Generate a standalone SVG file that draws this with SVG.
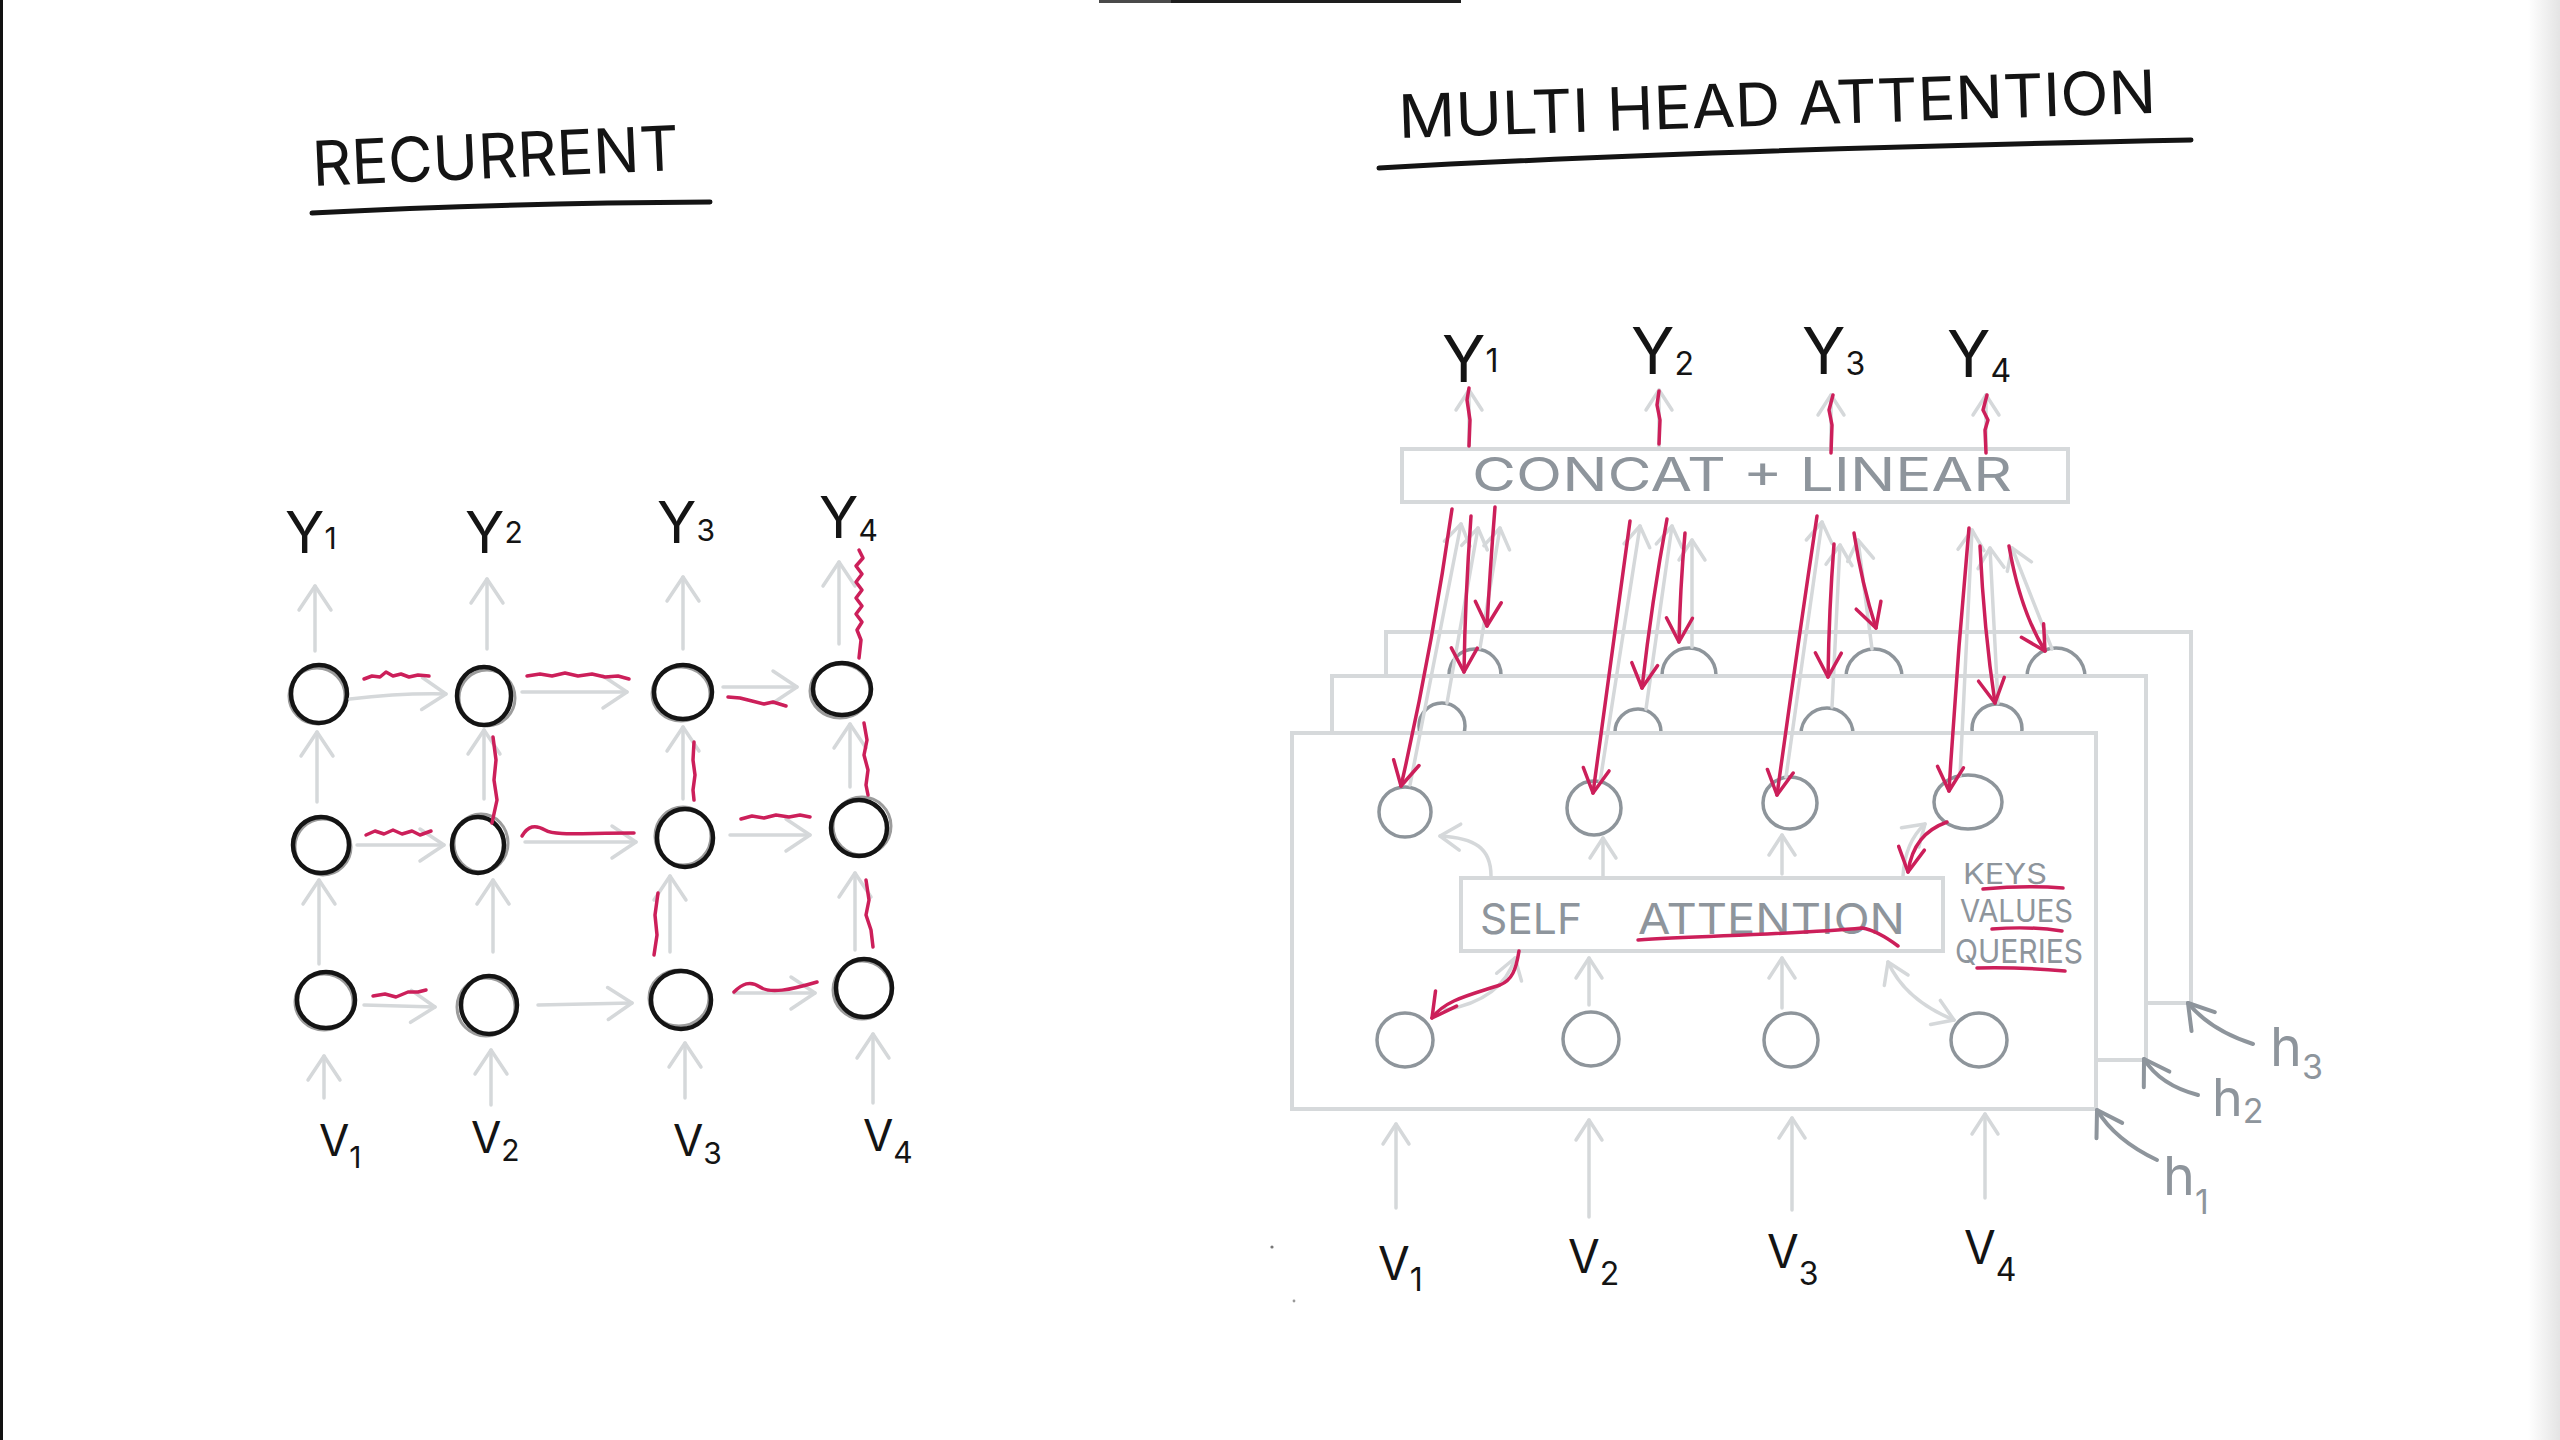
<svg xmlns="http://www.w3.org/2000/svg" width="2560" height="1440" viewBox="0 0 2560 1440">
<defs>
<style>
.hw{font-family:Inter,Lato,"Liberation Sans",sans-serif;font-weight:400;}
.ink{fill:#141414;}
.gt{fill:#8e959c;}
.ga{fill:none;stroke:#d5d8da;stroke-width:3.5;stroke-linecap:round;stroke-linejoin:round;}
.ra{fill:none;stroke:#cc1f5a;stroke-width:3.5;stroke-linecap:round;stroke-linejoin:round;}
.dg{fill:none;stroke:#8e959c;stroke-width:4;stroke-linecap:round;stroke-linejoin:round;}
.bx{fill:#fff;stroke:#d6d9db;stroke-width:4;}
.bc{fill:none;stroke:#141414;stroke-width:4.5;}
.bs{fill:none;stroke:#9c9c9c;stroke-width:3;}
.gc{fill:none;stroke:#8e959b;stroke-width:3.5;}
.ul{fill:none;stroke:#141414;stroke-width:5;stroke-linecap:round;}
</style>
<linearGradient id="shade" x1="0" y1="0" x2="1" y2="0">
<stop offset="0" stop-color="#ffffff"/>
<stop offset="1" stop-color="#e4e4e4"/>
</linearGradient>
<marker id="gh" markerUnits="userSpaceOnUse" markerWidth="60" markerHeight="60" refX="0" refY="0" orient="auto" overflow="visible"><path d="M-24,-16 L0,0 L-24,16" fill="none" stroke="#d5d8da" stroke-width="3.5" stroke-linecap="round" stroke-linejoin="round"/></marker>
<marker id="gs" markerUnits="userSpaceOnUse" markerWidth="60" markerHeight="60" refX="0" refY="0" orient="auto-start-reverse" overflow="visible"><path d="M-20,-13 L0,0 L-20,13" fill="none" stroke="#d5d8da" stroke-width="3.5" stroke-linecap="round" stroke-linejoin="round"/></marker>
<marker id="rh" markerUnits="userSpaceOnUse" markerWidth="60" markerHeight="60" refX="0" refY="0" orient="auto" overflow="visible"><path d="M-24,-13 L0,0 L-24,13" fill="none" stroke="#cc1f5a" stroke-width="3.5" stroke-linecap="round" stroke-linejoin="round"/></marker>
<marker id="dh" markerUnits="userSpaceOnUse" markerWidth="60" markerHeight="60" refX="0" refY="0" orient="auto" overflow="visible"><path d="M-24,-15 L0,0 L-24,15" fill="none" stroke="#8e959c" stroke-width="4" stroke-linecap="round" stroke-linejoin="round"/></marker>
</defs>

<rect x="0" y="0" width="2560" height="1440" fill="#ffffff"/>
<rect x="0" y="0" width="3" height="1440" fill="#111111"/>
<rect x="2528" y="0" width="32" height="1440" fill="url(#shade)"/>
<rect x="1099" y="0" width="72" height="3" fill="#4a4a4a"/>
<rect x="1171" y="0" width="290" height="3" fill="#1e1e1e"/>

<!-- Titles -->
<g id="title-recurrent">
<text class="hw ink" x="313" y="186" font-size="62" textLength="367" lengthAdjust="spacingAndGlyphs" transform="rotate(-2.5 313 186)">RECURRENT</text>
<path class="ul" d="M312,213 Q500,203 710,202"/>
</g>
<g id="title-mha">
<text class="hw ink" x="1399" y="138" font-size="60" textLength="758" lengthAdjust="spacingAndGlyphs" transform="rotate(-1.9 1399 138)">MULTI HEAD ATTENTION</text>
<path class="ul" d="M1379,168 Q1700,150 2191,140"/>
</g>

<!-- Recurrent labels -->
<g id="rec-y1"><text class="hw ink" x="285" y="553" font-size="58">Y<tspan dy="-4" font-size="30">1</tspan></text></g>
<g id="rec-y2"><text class="hw ink" x="465" y="553" font-size="58">Y<tspan dy="-10" font-size="30">2</tspan></text></g>
<g id="rec-y3"><text class="hw ink" x="657" y="543" font-size="58">Y<tspan dy="-2" font-size="30">3</tspan></text></g>
<g id="rec-y4"><text class="hw ink" x="819" y="538" font-size="58">Y<tspan dy="3" font-size="30">4</tspan></text></g>
<g id="rec-v1"><text class="hw ink" x="319" y="1156" font-size="44">V<tspan dy="12" font-size="30">1</tspan></text></g>
<g id="rec-v2"><text class="hw ink" x="471" y="1153" font-size="44">V<tspan dy="8" font-size="30">2</tspan></text></g>
<g id="rec-v3"><text class="hw ink" x="673" y="1156" font-size="44">V<tspan dy="8" font-size="30">3</tspan></text></g>
<g id="rec-v4"><text class="hw ink" x="863" y="1151" font-size="44">V<tspan dy="12" font-size="30">4</tspan></text></g>

<!-- Recurrent nodes -->
<g id="rec-n11"><ellipse class="bs" cx="317" cy="696" rx="28" ry="28"/><ellipse class="bc" cx="319" cy="694" rx="28" ry="29"/></g>
<g id="rec-n12"><ellipse class="bs" cx="487" cy="698" rx="28" ry="28"/><ellipse class="bc" cx="484" cy="696" rx="27" ry="29"/></g>
<g id="rec-n13"><ellipse class="bs" cx="681" cy="694" rx="29" ry="27"/><ellipse class="bc" cx="683" cy="692" rx="29" ry="27" stroke-width="6"/></g>
<g id="rec-n14"><ellipse class="bs" cx="840" cy="691" rx="30" ry="27"/><ellipse class="bc" cx="842" cy="689" rx="29" ry="26" stroke-width="7.5"/></g>
<g id="rec-n21"><ellipse class="bs" cx="323" cy="847" rx="28" ry="28"/><ellipse class="bc" cx="321" cy="845" rx="28" ry="28"/></g>
<g id="rec-n22"><ellipse class="bs" cx="481" cy="843" rx="27" ry="29"/><ellipse class="bc" cx="478" cy="845" rx="26" ry="28"/></g>
<g id="rec-n23"><ellipse class="bs" cx="683" cy="836" rx="28" ry="29"/><ellipse class="bc" cx="685" cy="838" rx="28" ry="29"/></g>
<g id="rec-n24"><ellipse class="bs" cx="862" cy="826" rx="29" ry="29"/><ellipse class="bc" cx="859" cy="828" rx="28" ry="28" stroke-width="5"/></g>
<g id="rec-n31"><ellipse class="bs" cx="324" cy="1002" rx="29" ry="28"/><ellipse class="bc" cx="326" cy="1000" rx="29" ry="28"/></g>
<g id="rec-n32"><ellipse class="bs" cx="486" cy="1007" rx="29" ry="29"/><ellipse class="bc" cx="489" cy="1005" rx="28" ry="29"/></g>
<g id="rec-n33"><ellipse class="bs" cx="679" cy="998" rx="30" ry="28"/><ellipse class="bc" cx="681" cy="1000" rx="30" ry="29"/></g>
<g id="rec-n34"><ellipse class="bs" cx="862" cy="990" rx="29" ry="29"/><ellipse class="bc" cx="864" cy="988" rx="28" ry="29"/></g>

<!-- Multi head attention: stacked heads -->
<g id="head3">
<rect class="bx" x="1386" y="632" width="805" height="371"/>
<circle class="gc" cx="1475" cy="675" r="26"/>
<circle class="gc" cx="1689" cy="675" r="27"/>
<circle class="gc" cx="1874" cy="677" r="28"/>
<circle class="gc" cx="2056" cy="677" r="29"/>
</g>
<g id="head2">
<rect class="bx" x="1332" y="676" width="814" height="384"/>
<circle class="gc" cx="1442" cy="726" r="23"/>
<circle class="gc" cx="1638" cy="732" r="23"/>
<circle class="gc" cx="1827" cy="734" r="26"/>
<circle class="gc" cx="1997" cy="729" r="25"/>
</g>
<g id="head1">
<rect class="bx" x="1292" y="733" width="804" height="376"/>
</g>
<g id="h1-o1"><ellipse class="gc" cx="1405" cy="812" rx="26" ry="25"/></g>
<g id="h1-o2"><ellipse class="gc" cx="1594" cy="808" rx="27" ry="27"/></g>
<g id="h1-o3"><ellipse class="gc" cx="1790" cy="803" rx="27" ry="26"/></g>
<g id="h1-o4"><ellipse class="gc" cx="1968" cy="802" rx="34" ry="27"/></g>
<g id="h1-i1"><ellipse class="gc" cx="1405" cy="1040" rx="28" ry="27"/></g>
<g id="h1-i2"><ellipse class="gc" cx="1591" cy="1039" rx="28" ry="27"/></g>
<g id="h1-i3"><ellipse class="gc" cx="1791" cy="1040" rx="27" ry="27"/></g>
<g id="h1-i4"><ellipse class="gc" cx="1979" cy="1040" rx="28" ry="27"/></g>
<g id="self-attention">
<rect class="bx" x="1461" y="878" width="482" height="73"/>
<text class="hw gt" x="1480" y="934" font-size="43" textLength="102" lengthAdjust="spacingAndGlyphs">SELF</text>
<text class="hw gt" x="1638" y="934" font-size="43" textLength="267" lengthAdjust="spacingAndGlyphs">ATTENTION</text>
</g>
<g id="concat-linear">
<rect class="bx" x="1402" y="449" width="666" height="53"/>
<text class="hw gt" x="1472" y="491" font-size="46" textLength="540" lengthAdjust="spacingAndGlyphs">CONCAT + LINEAR</text>
</g>

<!-- MHA labels -->
<g id="mha-y1"><text class="hw ink" x="1442" y="382" font-size="64">Y<tspan dy="-10" font-size="32">1</tspan></text></g>
<g id="mha-y2"><text class="hw ink" x="1631" y="374" font-size="64">Y<tspan dy="1" font-size="32">2</tspan></text></g>
<g id="mha-y3"><text class="hw ink" x="1802" y="374" font-size="64">Y<tspan dy="1" font-size="32">3</tspan></text></g>
<g id="mha-y4"><text class="hw ink" x="1947" y="377" font-size="64">Y<tspan dy="5" font-size="32">4</tspan></text></g>
<g id="mha-v1"><text class="hw ink" x="1378" y="1280" font-size="46">V<tspan dy="11" font-size="32">1</tspan></text></g>
<g id="mha-v2"><text class="hw ink" x="1568" y="1273" font-size="46">V<tspan dy="12" font-size="32">2</tspan></text></g>
<g id="mha-v3"><text class="hw ink" x="1767" y="1268" font-size="46">V<tspan dy="17" font-size="32">3</tspan></text></g>
<g id="mha-v4"><text class="hw ink" x="1964" y="1264" font-size="46">V<tspan dy="17" font-size="32">4</tspan></text></g>
<g id="label-h3"><text class="hw gt" x="2270" y="1066" font-size="54">h<tspan dy="13" font-size="34">3</tspan></text></g>
<g id="label-h2"><text class="hw gt" x="2212" y="1116" font-size="52">h<tspan dy="7" font-size="34">2</tspan></text></g>
<g id="label-h1"><text class="hw gt" x="2163" y="1195" font-size="54">h<tspan dy="19" font-size="34">1</tspan></text></g>
<g id="kvq">
<text class="hw gt" x="1963" y="884" font-size="28" textLength="84" lengthAdjust="spacingAndGlyphs">KEYS</text>
<text class="hw gt" x="1960" y="922" font-size="31" textLength="113" lengthAdjust="spacingAndGlyphs">VALUES</text>
<text class="hw gt" x="1955" y="963" font-size="33" textLength="128" lengthAdjust="spacingAndGlyphs">QUERIES</text>
</g>
<circle cx="1272" cy="1247" r="1.6" fill="#777"/>
<circle cx="1294" cy="1301" r="1.4" fill="#999"/>

<g id="connectors">
<!-- Recurrent gray arrows -->
<path class="ga" marker-end="url(#gh)" d="M324,1098 L324,1056"/>
<path class="ga" marker-end="url(#gh)" d="M491,1105 L491,1050"/>
<path class="ga" marker-end="url(#gh)" d="M685,1098 L685,1043"/>
<path class="ga" marker-end="url(#gh)" d="M873,1103 L873,1034"/>
<path class="ga" marker-end="url(#gh)" d="M319,964 L319,880"/>
<path class="ga" marker-end="url(#gh)" d="M493,952 L493,880"/>
<path class="ga" marker-end="url(#gh)" d="M670,952 L670,876"/>
<path class="ga" marker-end="url(#gh)" d="M855,950 L855,873"/>
<path class="ga" marker-end="url(#gh)" d="M317,802 L317,732"/>
<path class="ga" marker-end="url(#gh)" d="M484,799 L484,730"/>
<path class="ga" marker-end="url(#gh)" d="M683,799 L683,727"/>
<path class="ga" marker-end="url(#gh)" d="M850,787 L850,724"/>
<path class="ga" marker-end="url(#gh)" d="M315,651 L315,586"/>
<path class="ga" marker-end="url(#gh)" d="M487,649 L487,579"/>
<path class="ga" marker-end="url(#gh)" d="M683,649 L683,577"/>
<path class="ga" marker-end="url(#gh)" d="M839,644 L839,562"/>
<path class="ga" marker-end="url(#gh)" d="M350,699 Q400,693 446,694"/>
<path class="ga" marker-end="url(#gh)" d="M522,692 L627,692"/>
<path class="ga" marker-end="url(#gh)" d="M723,687 L797,687"/>
<path class="ga" marker-end="url(#gh)" d="M357,845 L444,845"/>
<path class="ga" marker-end="url(#gh)" d="M525,842 L636,842"/>
<path class="ga" marker-end="url(#gh)" d="M730,835 L810,835"/>
<path class="ga" marker-end="url(#gh)" d="M364,1005 L435,1007"/>
<path class="ga" marker-end="url(#gh)" d="M538,1005 L632,1003"/>
<path class="ga" marker-end="url(#gh)" d="M734,993 L815,993"/>

<!-- Recurrent red traces -->
<path class="ra" stroke-width="2" d="M364,679 L372,676 L380,677 L386,672 L393,676 L401,674 L409,677 L418,675 L429,676"/>
<path class="ra" d="M527,676 L540,674 L552,676 L565,673 L578,676 L592,674 L605,677 L618,676 L629,679"/>
<path class="ra" stroke-width="4" d="M728,697 L740,698 L752,701 L764,704 L773,702 L786,706"/>
<path class="ra" stroke-width="4" d="M859,550 L863,558 L856,566 L862,574 L856,582 L862,590 L856,598 L862,606 L856,614 L862,622 L857,630 L861,640 L859,658"/>
<path class="ra" stroke-width="4" d="M864,723 L867,740 L864,755 L868,770 L866,785 L868,795"/>
<path class="ra" d="M694,742 L693,760 L695,775 L693,790 L694,800"/>
<path class="ra" stroke-width="1.8" d="M493,737 L496,760 L494,780 L497,800 L492,823"/>
<path class="ra" stroke-width="3" d="M366,835 L375,831 L384,834 L393,830 L402,834 L412,831 L420,835 L431,831"/>
<path class="ra" stroke-width="2" d="M522,836 C528,826 535,824 545,830 C555,836 580,833 634,833"/>
<path class="ra" d="M741,819 L752,816 L764,818 L776,815 L789,817 L800,815 L810,817"/>
<path class="ra" stroke-width="3" d="M866,880 L869,900 L866,915 L871,930 L873,947"/>
<path class="ra" stroke-width="1.8" d="M658,893 L655,915 L657,935 L654,955"/>
<path class="ra" stroke-width="2" d="M373,996 L385,994 L396,997 L408,992 L418,992 L426,990"/>
<path class="ra" stroke-width="2" d="M734,992 C742,984 750,980 760,987 C770,994 790,990 817,982"/>

<!-- MHA gray arrows -->
<path class="ga" marker-end="url(#gs)" d="M1469,447 L1469,390"/>
<path class="ga" marker-end="url(#gs)" d="M1659,447 L1659,390"/>
<path class="ga" marker-end="url(#gs)" d="M1831,447 L1831,395"/>
<path class="ga" marker-end="url(#gs)" d="M1986,447 L1986,395"/>
<path class="ga" marker-end="url(#gs)" d="M1410,785 L1461,524"/>
<path class="ga" marker-end="url(#gs)" d="M1447,703 L1478,528"/>
<path class="ga" marker-end="url(#gs)" d="M1480,648 L1500,528"/>
<path class="ga" marker-end="url(#gs)" d="M1600,782 L1640,526"/>
<path class="ga" marker-end="url(#gs)" d="M1646,709 L1672,526"/>
<path class="ga" marker-end="url(#gs)" d="M1692,647 L1692,540"/>
<path class="ga" marker-end="url(#gs)" d="M1786,777 L1822,522"/>
<path class="ga" marker-end="url(#gs)" d="M1832,707 L1840,545"/>
<path class="ga" marker-end="url(#gs)" d="M1872,649 L1858,540"/>
<path class="ga" marker-end="url(#gs)" d="M1960,776 L1972,530"/>
<path class="ga" marker-end="url(#gs)" d="M1998,703 L1990,548"/>
<path class="ga" marker-end="url(#gs)" d="M2052,649 L2012,548"/>
<path class="ga" marker-end="url(#gs)" d="M1491,876 C1491,848 1475,838 1440,836"/>
<path class="ga" marker-end="url(#gs)" d="M1603,876 L1603,838"/>
<path class="ga" marker-end="url(#gs)" d="M1782,874 L1782,835"/>
<path class="ga" marker-end="url(#gs)" d="M1903,876 Q1905,842 1925,824"/>
<path class="ga" marker-end="url(#gs)" d="M1445,1010 Q1502,1000 1515,958"/>
<path class="ga" marker-end="url(#gs)" d="M1589,1005 L1589,958"/>
<path class="ga" marker-end="url(#gs)" d="M1782,1008 L1782,958"/>
<path class="ga" marker-start="url(#gs)" marker-end="url(#gs)" d="M1888,962 Q1905,1000 1954,1020"/>
<path class="ga" marker-end="url(#gs)" d="M1396,1208 L1396,1124"/>
<path class="ga" marker-end="url(#gs)" d="M1589,1217 L1589,1120"/>
<path class="ga" marker-end="url(#gs)" d="M1792,1210 L1792,1118"/>
<path class="ga" marker-end="url(#gs)" d="M1985,1198 L1985,1114"/>

<!-- MHA red traces -->
<path class="ra" d="M1469,446 L1470,420 L1467,400 L1469,388"/>
<path class="ra" d="M1659,444 L1660,420 L1657,405 L1659,391"/>
<path class="ra" d="M1831,453 L1832,425 L1829,410 L1833,395"/>
<path class="ra" d="M1986,453 L1985,430 L1988,420 L1983,410 L1987,395"/>
<path class="ra" marker-end="url(#rh)" d="M1452,509 Q1432,650 1401,786"/>
<path class="ra" marker-end="url(#rh)" d="M1471,516 Q1465,600 1464,672"/>
<path class="ra" marker-end="url(#rh)" d="M1495,507 Q1490,570 1487,626"/>
<path class="ra" marker-end="url(#rh)" d="M1630,521 Q1612,650 1593,793"/>
<path class="ra" marker-end="url(#rh)" d="M1667,519 Q1652,600 1642,688"/>
<path class="ra" marker-end="url(#rh)" d="M1685,533 Q1680,590 1679,642"/>
<path class="ra" marker-end="url(#rh)" d="M1817,516 Q1797,650 1777,795"/>
<path class="ra" marker-end="url(#rh)" d="M1834,544 Q1829,610 1828,677"/>
<path class="ra" marker-end="url(#rh)" d="M1854,533 Q1862,585 1876,628"/>
<path class="ra" marker-end="url(#rh)" d="M1969,528 Q1957,660 1949,791"/>
<path class="ra" marker-end="url(#rh)" d="M1980,546 Q1984,630 1995,703"/>
<path class="ra" marker-end="url(#rh)" d="M2009,546 Q2020,610 2045,651"/>
<path class="ra" marker-end="url(#rh)" d="M1947,822 C1925,830 1912,845 1908,872"/>
<path class="ra" marker-end="url(#rh)" d="M1519,951 C1516,970 1512,980 1500,985 C1470,995 1445,1000 1432,1018"/>
<path class="ra" d="M1638,940 C1700,936 1800,934 1862,928 C1875,930 1890,940 1898,946"/>
<path class="ra" d="M1983,889 Q2025,885 2063,888"/>
<path class="ra" d="M1992,929 Q2030,926 2062,931"/>
<path class="ra" d="M1977,968 Q2020,967 2065,971"/>

<!-- head pointers -->
<path class="dg" marker-end="url(#dh)" d="M2253,1044 Q2210,1030 2188,1003"/>
<path class="dg" marker-end="url(#dh)" d="M2198,1095 Q2160,1085 2144,1059"/>
<path class="dg" marker-end="url(#dh)" d="M2157,1160 Q2115,1140 2097,1110"/>
</g>
</svg>
